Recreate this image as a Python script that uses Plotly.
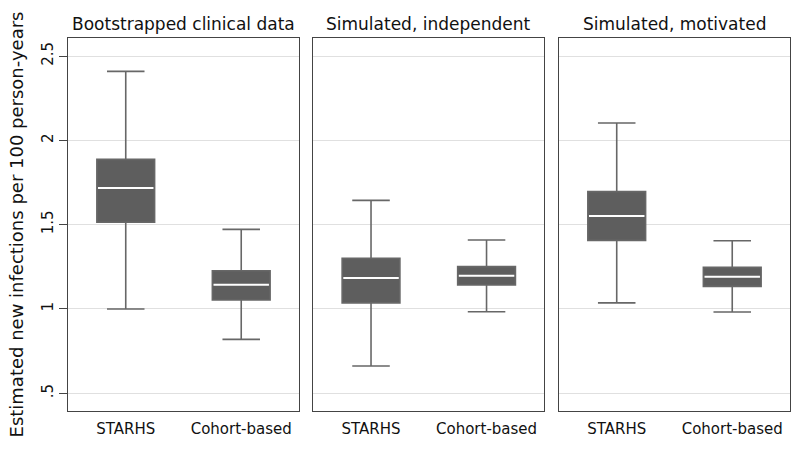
import plotly.graph_objects as go

panels = ["Bootstrapped clinical data", "Simulated, independent", "Simulated, motivated"]
categories = ["STARHS", "Cohort-based"]
# per panel: [STARHS, Cohort-based]
lower = [[1.00, 0.82], [0.662, 0.984], [1.036, 0.982]]
q1 = [[1.514, 1.053], [1.036, 1.142], [1.407, 1.134]]
median = [[1.717, 1.144], [1.184, 1.197], [1.552, 1.191]]
q3 = [[1.887, 1.227], [1.300, 1.251], [1.696, 1.247]]
upper = [[2.409, 1.472], [1.644, 1.409], [2.103, 1.405]]
yticks = [0.5, 1, 1.5, 2, 2.5]
yticklabels = [".5", "1", "1.5", "2", "2.5"]

FONT = "DejaVu Sans"
BOXW = 0.5
domains = [[0, 0.3199], [0.3397, 0.6597], [0.680, 1.0]]

fig = go.Figure()
for p in range(3):
    xa = "x" if p == 0 else f"x{p+1}"
    ya = "y" if p == 0 else f"y{p+1}"
    for c in range(2):
        fig.add_trace(go.Box(
            x=[c], q1=[q1[p][c]], median=[median[p][c]], q3=[q3[p][c]],
            lowerfence=[lower[p][c]], upperfence=[upper[p][c]],
            width=BOXW, whiskerwidth=0.65,
            fillcolor="#5e5e5e", line=dict(color="#676767", width=1.6),
            xaxis=xa, yaxis=ya, showlegend=False, hoverinfo="skip",
        ))
    for c in range(2):
        fig.add_trace(go.Scatter(
            x=[c - BOXW / 2 + 0.01, c + BOXW / 2 - 0.01], y=[median[p][c]] * 2,
            mode="lines", line=dict(color="white", width=2),
            xaxis=xa, yaxis=ya, showlegend=False, hoverinfo="skip",
        ))

layout = dict(
    width=800, height=451,
    margin=dict(l=68, r=10, t=38, b=40, autoexpand=False),
    plot_bgcolor="white", paper_bgcolor="white",
    font=dict(family=FONT, color="#111111", size=15),
    showlegend=False,
)
for p in range(3):
    k = "" if p == 0 else str(p + 1)
    layout[f"xaxis{k}"] = dict(
        domain=domains[p], range=[-0.5, 1.5], tickvals=[0, 1], ticktext=categories,
        showgrid=False, zeroline=False, showline=True, mirror=True,
        linecolor="#444444", linewidth=1, ticks="", anchor=f"y{k}", automargin=False,
        ticklabelstandoff=4,
        tickfont=dict(size=15, family=FONT, color="#111111"),
    )
    yd = dict(
        range=[0.395, 2.607], tickvals=yticks, ticktext=yticklabels,
        showgrid=True, gridcolor="#e0e0e0", gridwidth=1.2, zeroline=False,
        showline=True, mirror=True, linecolor="#444444", linewidth=1,
        anchor=f"x{k}", automargin=False,
    )
    if p == 0:
        yd.update(ticks="outside", ticklen=8, tickcolor="#444444", tickangle=-90,
                  tickfont=dict(size=15, family=FONT, color="#111111"),
                  title=dict(text="Estimated new infections per 100 person-years",
                             font=dict(size=18, family=FONT, color="#111111"), standoff=10))
    else:
        yd.update(showticklabels=False, ticks="", matches="y")
    layout[f"yaxis{k}"] = yd

fig.update_layout(**layout)
for p in range(3):
    fig.add_annotation(
        text=panels[p], x=(domains[p][0] + domains[p][1]) / 2, y=1, xref="paper", yref="paper",
        xanchor="center", yanchor="bottom", yshift=2, showarrow=False,
        font=dict(size=17, family=FONT, color="#111111"),
    )

fig.write_html(
    "out.html",
    config={"displayModeBar": False},
    post_script="document.body.style.margin='0';document.body.style.padding='0';",
)
